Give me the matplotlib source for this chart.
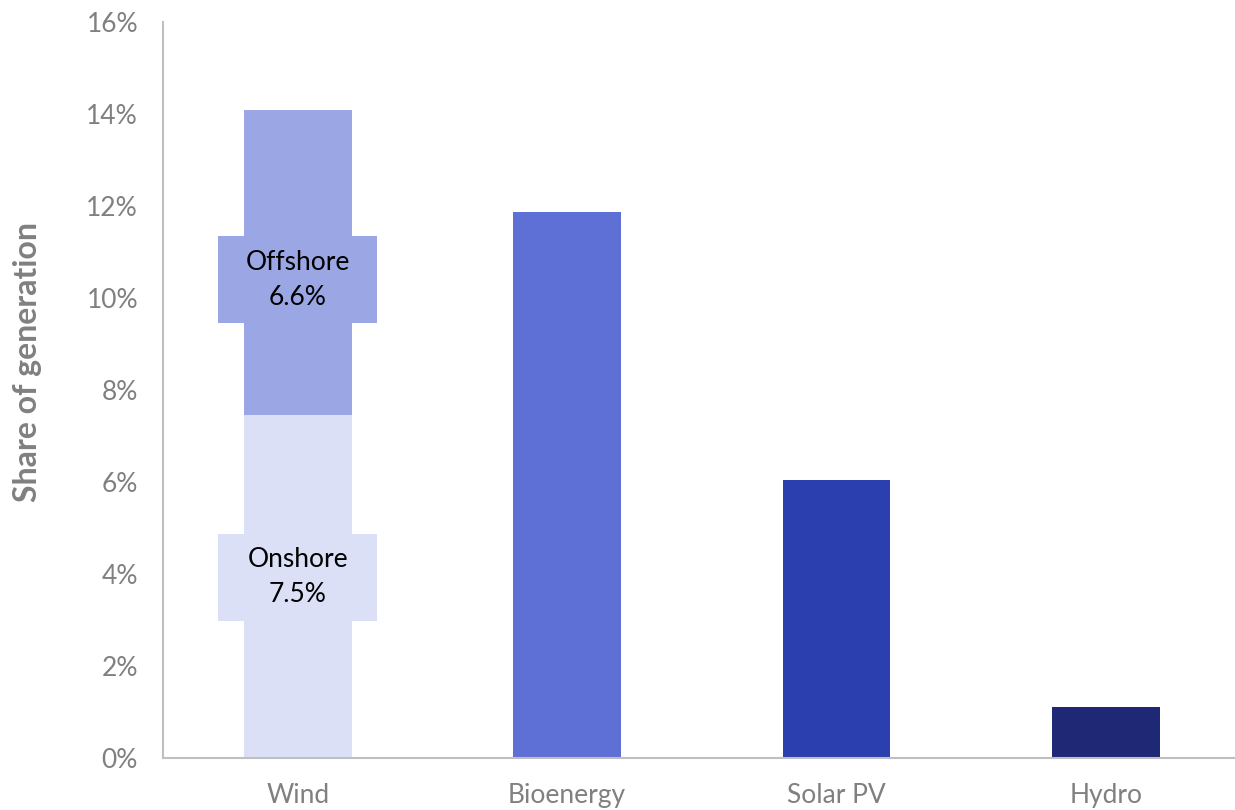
import matplotlib.pyplot as plt
from matplotlib.patches import Rectangle
from matplotlib.ticker import FuncFormatter

# Chart data.
CATEGORIES = ["Wind", "Bioenergy", "Solar PV", "Hydro"]
SINGLE_VALUES = [0, 11.88, 6.03, 1.11]
WIND_PARTS = ["Onshore", "Offshore"]
WIND_VALUES = [7.45, 6.63]
WIND_LABELS = ["7.5%", "6.6%"]

# Styling.
BAR_COLORS = [None, "#5E6FD6", "#2B3FAE", "#1E2875"]
WIND_COLORS = ["#DCE0F7", "#9BA6E4"]
LABEL_Y = [3.92, 10.40]
GREY = "#808080"
SPINE = "#BFBFBF"
FONT = ["Lato", "DejaVu Sans"]


def plot_share() -> None:
    plt.rcParams["font.family"] = FONT
    fig = plt.figure(figsize=(12.35, 8.10), dpi=100)
    ax = fig.add_axes([0.132, 0.0646, 0.868, 0.908])

    x = list(range(len(CATEGORIES)))
    width = 0.40

    # Single-series bars (skip wind, drawn stacked below).
    for i, (v, c) in enumerate(zip(SINGLE_VALUES, BAR_COLORS)):
        if c is None:
            continue
        ax.bar(x[i], v, width=width, color=c, zorder=2)

    # Stacked wind bar with boxed labels.
    bottom = 0.0
    for part, v, lab, c, ly in zip(WIND_PARTS, WIND_VALUES, WIND_LABELS, WIND_COLORS, LABEL_Y):
        ax.bar(x[0], v, width=width, bottom=bottom, color=c, zorder=2)
        bw, bh = 0.59, 1.9
        ax.add_patch(Rectangle((x[0] - bw / 2, ly - bh / 2), bw, bh,
                               facecolor=c, edgecolor="none", zorder=3))
        ax.text(x[0], ly, f"{part}\n{lab}", ha="center", va="center",
                fontsize=19, color="black", linespacing=1.5, zorder=4)
        bottom += v

    ax.set_xlim(-0.5, 3.48)
    ax.set_ylim(0, 16)
    ax.set_yticks(range(0, 17, 2))
    ax.yaxis.set_major_formatter(FuncFormatter(lambda v, _: f"{v:.0f}%"))
    ax.set_xticks(x)
    ax.set_xticklabels(CATEGORIES)

    ax.tick_params(axis="both", length=0, labelsize=19, colors=GREY)
    ax.tick_params(axis="x", pad=18)
    ax.tick_params(axis="y", pad=18)

    for s in ["top", "right"]:
        ax.spines[s].set_visible(False)
    for s in ["left", "bottom"]:
        ax.spines[s].set_color(SPINE)
        ax.spines[s].set_linewidth(1.5)

    ax.set_ylabel("Share of generation", fontsize=23, fontweight="bold",
                  color=GREY)
    ax.yaxis.set_label_coords(-0.113, 0.538)

    fig.savefig("out.png", dpi=100)
    plt.close(fig)


if __name__ == "__main__":
    plot_share()
